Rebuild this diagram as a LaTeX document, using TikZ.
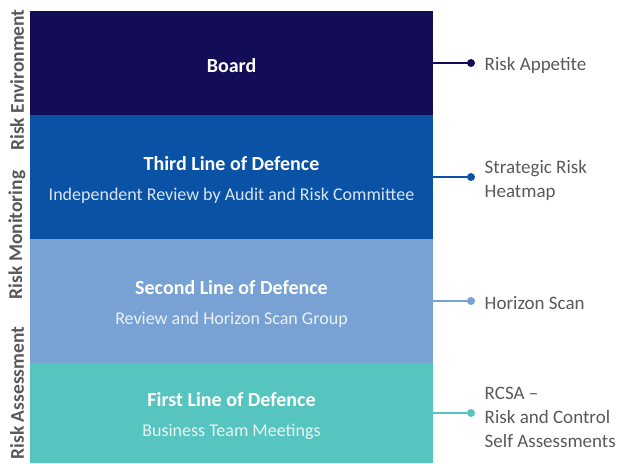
\documentclass[tikz,border=0pt]{standalone}
\usepackage{fontspec}
\setmainfont{Carlito}
\usetikzlibrary{positioning}
\definecolor{boardblue}{HTML}{130C57}
\definecolor{thirdblue}{HTML}{0A52A5}
\definecolor{secondblue}{HTML}{77A2D3}
\definecolor{firstteal}{HTML}{56C5BF}
\definecolor{textgray}{HTML}{595959}

\tikzset{
  band/.style={minimum width=403pt, inner sep=0pt, outer sep=0pt, text=white,
    align=center, font=\fontsize{18}{30}\selectfont},
  side/.style={rotate=90, text=textgray, font=\bfseries\fontsize{19.5}{22}\selectfont},
  note/.style={anchor=west, align=left, text=textgray, font=\fontsize{19}{24}\selectfont},
  link/.style={line width=2pt},
  dot/.style={circle, fill, inner sep=0pt, minimum size=8pt}
}
\newcommand{\bandhead}[1]{{\bfseries\fontsize{20}{30}\selectfont\rule{0pt}{20pt}#1}}

\begin{document}
\begin{tikzpicture}[x=1pt,y=1pt]
\useasboundingbox (0,0) rectangle (618,463);

% stacked bands
\node[band, fill=boardblue, minimum height=104pt] (board) at (231.5,400) {\bandhead{Board}};
\node[band, fill=thirdblue, minimum height=124pt, below=0pt of board] (third)
  {\bandhead{Third Line of Defence}\\{\color{white!85!thirdblue}Independent Review by Audit and Risk Committee}};
\node[band, fill=secondblue, minimum height=124pt, below=0pt of third] (second)
  {\bandhead{Second Line of Defence}\\{\color{white!85!secondblue}Review and Horizon Scan Group}};
\node[band, fill=firstteal, minimum height=100pt, below=0pt of second] (first)
  {\bandhead{First Line of Defence}\\{\color{white!85!firstteal}Business Team Meetings}};

% side headings
\node[side] (env) at (17,383) {Risk Environment};
\node[side] (mon) at (17,228) {Risk Monitoring};
\node[side] (ass) at (17,70) {Risk Assessment};

% connectors out to the right
\foreach \n/\col in {board/boardblue, third/thirdblue, second/secondblue, first/firstteal}{
  \coordinate (\n-end) at ([xshift=38pt]\n.east);
  \draw[link, \col] (\n.east) -- (\n-end);
  \node[dot, fill=\col] (\n-dot) at (\n-end) {};
}

\node[note] (appetite) at ([xshift=6pt,yshift=-2pt]board-dot.east) {Risk Appetite};
\node[note] (heatmap) at ([xshift=6pt,yshift=-3pt]third-dot.east) {Strategic Risk\\Heatmap};
\node[note] (scan) at ([xshift=6pt,yshift=-2pt]second-dot.east) {Horizon Scan};
\node[note] (rcsa) at ([xshift=6pt,yshift=-4pt]first-dot.east) {RCSA --\\Risk and Control\\Self Assessments};
\end{tikzpicture}
\end{document}
